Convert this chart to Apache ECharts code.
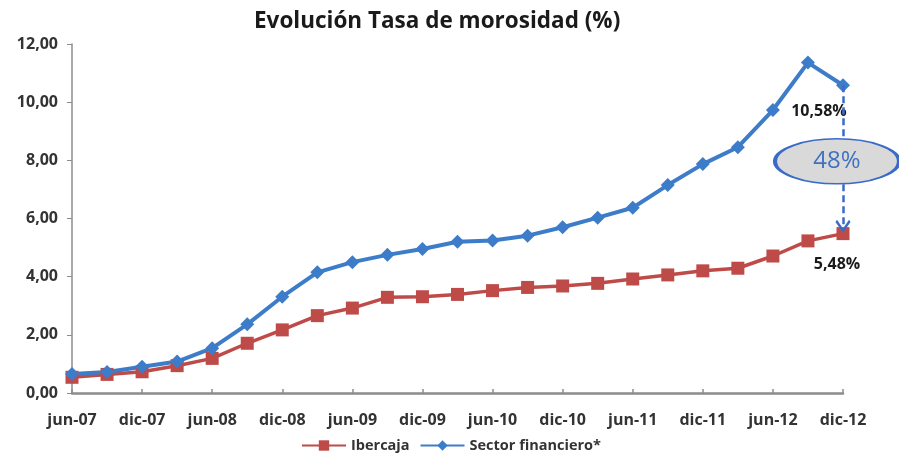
<!DOCTYPE html>
<html>
<head>
<meta charset="utf-8">
<script src="https://cdn.jsdelivr.net/npm/echarts@6/dist/echarts.min.js"></script>
<style>
  html, body { margin: 0; padding: 0; background: #fff; }
  #chart { width: 899px; height: 459px; }
</style>
</head>
<body>
<div id="chart"></div>
<script>
// trimestres jun-07 .. dic-12
const categories = [
  "jun-07", "sep-07", "dic-07", "mar-08", "jun-08", "sep-08", "dic-08", "mar-09",
  "jun-09", "sep-09", "dic-09", "mar-10", "jun-10", "sep-10", "dic-10", "mar-11",
  "jun-11", "sep-11", "dic-11", "mar-12", "jun-12", "sep-12", "dic-12"
];
const ibercaja = [
  0.54, 0.64, 0.73, 0.94, 1.19, 1.71, 2.17, 2.66,
  2.92, 3.29, 3.31, 3.39, 3.52, 3.63, 3.68, 3.77,
  3.92, 4.06, 4.20, 4.29, 4.71, 5.23, 5.48
];
const sectorFinanciero = [
  0.65, 0.72, 0.90, 1.08, 1.54, 2.36, 3.31, 4.15,
  4.50, 4.75, 4.95, 5.20, 5.24, 5.41, 5.70, 6.03,
  6.37, 7.15, 7.87, 8.45, 9.73, 11.36, 10.58
];
const yTicks = [0, 2, 4, 6, 8, 10, 12];
const diferencia = "48%";

const FONT = "'Open Sans', sans-serif";
const last = categories.length - 1;
const fmt = v => v.toFixed(2).replace(".", ",");

const chart = echarts.init(document.getElementById("chart"));
chart.setOption({
  animation: false,
  textStyle: { fontFamily: FONT },
  title: {
    text: "Evolución Tasa de morosidad (%)",
    left: 249,
    top: 5,
    textStyle: { fontFamily: FONT, fontSize: 22.5, fontWeight: "bold", color: "#1a1a1a" },
  },
  legend: {
    bottom: 1,
    left: 296,
    itemWidth: 44,
    itemHeight: 13,
    itemGap: 10,
    textStyle: { fontFamily: FONT, fontSize: 14.5, fontWeight: "bold", color: "#333" },
    data: ["Ibercaja", "Sector financiero*"],
  },
  grid: { left: 72, right: 56, top: 44, bottom: 66 },
  xAxis: {
    type: "category",
    data: categories,
    boundaryGap: false,
    axisLine: { lineStyle: { color: "#8c8c8c", width: 2.5 } },
    axisTick: { inside: true, length: 4, interval: 1, lineStyle: { color: "#8c8c8c", width: 1.5 } },
    axisLabel: {
      interval: 1,
      margin: 19,
      fontFamily: FONT,
      fontSize: 16,
      fontWeight: "bold",
      color: "#333",
    },
  },
  yAxis: {
    type: "value",
    min: yTicks[0],
    max: yTicks[yTicks.length - 1],
    interval: 2,
    splitLine: { show: false },
    axisLine: { show: true, lineStyle: { color: "#8c8c8c", width: 1.5 } },
    axisTick: { show: true, length: 5, lineStyle: { color: "#8c8c8c" } },
    axisLabel: {
      margin: 14,
      fontFamily: FONT,
      fontSize: 16,
      fontWeight: "bold",
      color: "#333",
      formatter: v => fmt(v),
    },
  },
  series: [
    {
      name: "Ibercaja",
      type: "line",
      data: ibercaja.map((v, i) => i === last
        ? { value: v, label: { show: true } }
        : v),
      symbol: "rect",
      symbolSize: 13,
      lineStyle: { color: "#be4b48", width: 3.5 },
      itemStyle: { color: "#be4b48" },
      label: {
        show: false,
        position: "inside",
        offset: [-6, 31],
        fontFamily: FONT,
        fontSize: 16,
        fontWeight: "bold",
        color: "#1a1a1a",
        formatter: p => fmt(p.value) + "%",
      },
      markLine: {
        silent: true,
        symbol: ["none", "path://M0,0 L10,10 L8,12 L0,4 L-8,12 L-10,10 Z"],
        symbolSize: [15, 13],
        label: { show: false },
        itemStyle: { color: "#3a6bc8" },
        lineStyle: { color: "#3a6bc8", width: 2.5, type: [7, 4] },
        data: [[
          { coord: [last, sectorFinanciero[last]] },
          { coord: [last, ibercaja[last] + 0.25] },
        ]],
      },
    },
    {
      name: "Sector financiero*",
      type: "line",
      data: sectorFinanciero.map((v, i) => i === last
        ? { value: v, label: { show: true } }
        : v),
      symbol: "diamond",
      symbolSize: 14,
      lineStyle: { color: "#3d7cc9", width: 4 },
      itemStyle: { color: "#3d7cc9" },
      label: {
        show: false,
        position: "inside",
        offset: [-24, 26],
        fontFamily: FONT,
        fontSize: 16,
        fontWeight: "bold",
        color: "#1a1a1a",
        formatter: p => fmt(p.value) + "%",
      },
      markPoint: {
        silent: true,
        symbol: "circle",
        symbolSize: [124, 45],
        symbolOffset: [-6, 1],
        itemStyle: { color: "#d9d9d9", borderColor: "#3a6bc8", borderWidth: 2.5 },
        label: {
          show: true,
          position: "inside",
          fontFamily: FONT,
          fontSize: 24,
          color: "#3f72c0",
          formatter: diferencia,
        },
        data: [{ coord: [last, 8.0] }],
      },
    },
  ],
});
</script>
</body>
</html>
